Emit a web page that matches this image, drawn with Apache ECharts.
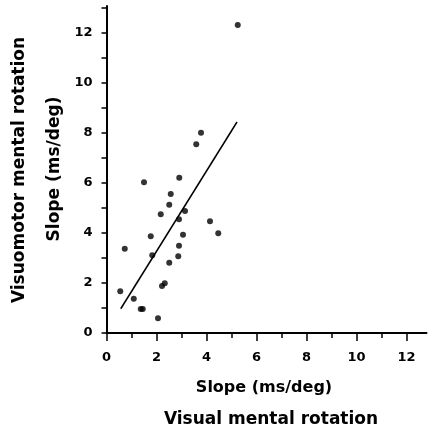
<!DOCTYPE html>
<html>
<head>
<meta charset="utf-8">
<script src="https://cdn.jsdelivr.net/npm/echarts@6/dist/echarts.min.js"></script>
<style>
  html, body { margin: 0; padding: 0; background: #fff; }
  #main { width: 428px; height: 433px; }
</style>
</head>
<body>
<div id="main"></div>
<script>
// visual slope (x) vs visuomotor slope (y), ms/deg
var visualSlope = [1.5, 2.91, 2.57, 3.59, 3.78, 5.25, 2.51, 2.17, 3.14, 2.9, 4.14, 4.47, 1.77,
    3.06, 0.73, 2.9, 1.83, 2.87, 2.51, 2.33, 2.22, 0.55, 1.09, 1.37, 1.45, 2.06];
var motorSlope = [6.03, 6.21, 5.56, 7.55, 8.01, 12.32, 5.13, 4.75, 4.88, 4.55, 4.47, 3.99, 3.87,
    3.93, 3.37, 3.49, 3.11, 3.07, 2.81, 1.99, 1.88, 1.67, 1.37, 0.96, 0.96, 0.59];
// fitted regression line end points
var fitX = [0.57, 5.22];
var fitY = [0.97, 8.44];
var xMajor = [0, 2, 4, 6, 8, 10, 12];
var xMinor = [0, 1, 2, 3, 4, 5, 6, 7, 8, 9, 10, 11, 12];
var yLabels = [0, 2, 4, 6, 8, 10, 12];
var yTicks = [0, 1, 2, 3, 4, 5, 6, 7, 8, 9, 10, 11, 12, 13];

var chart = echarts.init(document.getElementById('main'));
var font = '"DejaVu Sans", "Liberation Sans", sans-serif';

var points = visualSlope.map(function (v, i) { return [v, motorSlope[i]]; });
var fit = fitX.map(function (v, i) { return [v, fitY[i]]; });

var option = {
    backgroundColor: '#fff',
    animation: false,
    grid: { left: 106.5, right: 1.5, top: 6, bottom: 100 },
    xAxis: [
        {
            type: 'value', min: 0, max: 12.8,
            splitLine: { show: false },
            axisLine: { onZero: false, lineStyle: { color: '#000', width: 2 } },
            axisTick: { customValues: xMajor, length: 8, lineStyle: { color: '#000', width: 1.5 } },
            axisLabel: { customValues: xMajor, margin: 18, color: '#000', fontSize: 13, fontWeight: 'bold', fontFamily: font }
        },
        {
            type: 'value', min: 0, max: 12.8, position: 'bottom',
            splitLine: { show: false },
            axisLine: { show: false },
            axisTick: { customValues: xMinor, length: 5, lineStyle: { color: '#000', width: 1.5 } },
            axisLabel: { show: false }
        }
    ],
    yAxis: {
        type: 'value', min: 0, max: 13.08,
        splitLine: { show: false },
        axisLine: { onZero: false, lineStyle: { color: '#000', width: 2 } },
        axisTick: { customValues: yTicks, length: 5, lineStyle: { color: '#000', width: 1.5 } },
        axisLabel: { customValues: yLabels, margin: 14, color: '#000', fontSize: 13, fontWeight: 'bold', fontFamily: font }
    },
    series: [
        {
            type: 'scatter',
            data: points,
            symbolSize: 6,
            itemStyle: { color: '#000' }
        },
        {
            type: 'line',
            data: fit,
            showSymbol: false,
            lineStyle: { color: '#000', width: 1.5 }
        }
    ],
    graphic: [
        {
            type: 'text', x: 264, y: 388,
            style: { text: 'Slope (ms/deg)', font: 'bold 16px ' + font, fill: '#000', align: 'center', verticalAlign: 'middle' }
        },
        {
            type: 'text', x: 271, y: 420,
            style: { text: 'Visual mental rotation', font: 'bold 17px ' + font, fill: '#000', align: 'center', verticalAlign: 'middle' }
        },
        {
            type: 'text', x: 55, y: 169, rotation: Math.PI / 2,
            style: { text: 'Slope (ms/deg)', font: 'bold 17px ' + font, fill: '#000', align: 'center', verticalAlign: 'middle' }
        },
        {
            type: 'text', x: 20, y: 170, rotation: Math.PI / 2,
            style: { text: 'Visuomotor mental rotation', font: 'bold 17px ' + font, fill: '#000', align: 'center', verticalAlign: 'middle' }
        }
    ]
};
chart.setOption(option);
</script>
</body>
</html>
